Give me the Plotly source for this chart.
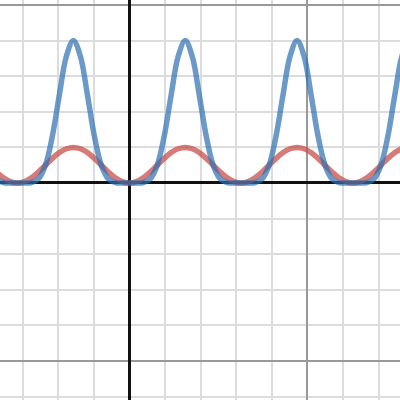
import plotly.graph_objects as go

# sample positions (radians, step pi/16)
x_vals = [-3.927, -3.731, -3.534, -3.338, -3.142, -2.945, -2.749, -2.553, -2.356, -2.160,
          -1.963, -1.767, -1.571, -1.374, -1.178, -0.982, -0.785, -0.589, -0.393, -0.196,
          0.000, 0.196, 0.393, 0.589, 0.785, 0.982, 1.178, 1.374, 1.571, 1.767,
          1.963, 2.160, 2.356, 2.553, 2.749, 2.945, 3.142, 3.338, 3.534, 3.731,
          3.927, 4.123, 4.320, 4.516, 4.712, 4.909, 5.105, 5.301, 5.498, 5.694,
          5.890, 6.087, 6.283, 6.480, 6.676, 6.872, 7.069, 7.265, 7.461, 7.658,
          7.854]

red_vals = [0.5, 0.309, 0.146, 0.038,
            0, 0.038, 0.146, 0.309, 0.5, 0.691, 0.854, 0.962, 1, 0.962, 0.854, 0.691, 0.5, 0.309, 0.146, 0.038,
            0, 0.038, 0.146, 0.309, 0.5, 0.691, 0.854, 0.962, 1, 0.962, 0.854, 0.691, 0.5, 0.309, 0.146, 0.038,
            0, 0.038, 0.146, 0.309, 0.5, 0.691, 0.854, 0.962, 1, 0.962, 0.854, 0.691, 0.5, 0.309, 0.146, 0.038,
            0, 0.038, 0.146, 0.309, 0.5, 0.691, 0.854, 0.962, 1]

blue_vals = [0.5, 0.118, 0.013, 0.0002,
             0, 0.0002, 0.013, 0.118, 0.5, 1.322, 2.488, 3.56, 4, 3.56, 2.488, 1.322, 0.5, 0.118, 0.013, 0.0002,
             0, 0.0002, 0.013, 0.118, 0.5, 1.322, 2.488, 3.56, 4, 3.56, 2.488, 1.322, 0.5, 0.118, 0.013, 0.0002,
             0, 0.0002, 0.013, 0.118, 0.5, 1.322, 2.488, 3.56, 4, 3.56, 2.488, 1.322, 0.5, 0.118, 0.013, 0.0002,
             0, 0.0002, 0.013, 0.118, 0.5, 1.322, 2.488, 3.56, 4]

fig = go.Figure()
fig.add_trace(go.Scatter(x=x_vals, y=red_vals, mode="lines",
                         line=dict(color="#c74440", width=5.5, shape="spline", smoothing=1),
                         opacity=0.7, hoverinfo="skip"))
fig.add_trace(go.Scatter(x=x_vals, y=blue_vals, mode="lines",
                         line=dict(color="#2d70b3", width=5.5, shape="spline", smoothing=1),
                         opacity=0.7, hoverinfo="skip"))

axis_common = dict(
    showticklabels=False, ticks="", showline=False,
    tick0=0, dtick=5, showgrid=True, gridcolor="#999999", gridwidth=2,
    minor=dict(tick0=0, dtick=1, showgrid=True, gridcolor="#dcdcdc", gridwidth=2),
    zeroline=True, zerolinecolor="#111111", zerolinewidth=3,
    fixedrange=True,
)

fig.update_layout(
    width=400, height=400,
    margin=dict(l=0, r=0, t=0, b=0),
    paper_bgcolor="white", plot_bgcolor="white",
    showlegend=False,
    xaxis=dict(range=[-3.632, 7.604], **axis_common),
    yaxis=dict(range=[-6.096, 5.14], **axis_common),
)

fig.write_html("out.html", config={"displayModeBar": False},
               post_script="document.body.style.margin='0';document.body.style.overflow='hidden';")
